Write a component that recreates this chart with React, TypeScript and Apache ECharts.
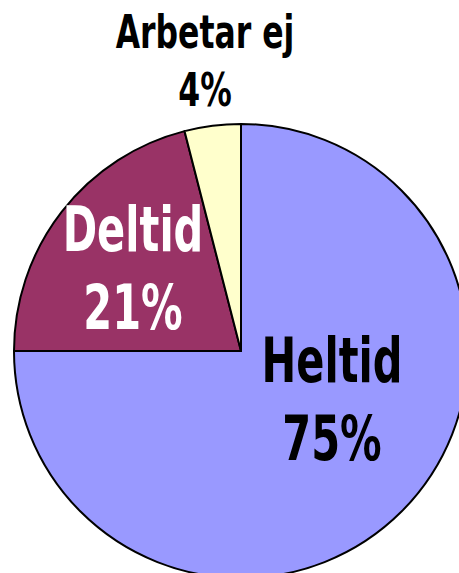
import React, { useEffect, useRef } from "react";
import * as echarts from "echarts";

const categories = ["Heltid", "Deltid", "Arbetar ej"];
const values = [75, 21, 4];
const colors = ["#9999FF", "#993366", "#FFFFCC"];
const labelColors = ["#000000", "#FFFFFF", "#000000"];
const labelSizes = [62, 62, 47];
const labelLineHeights = [78, 78, 58];
const labelCenters = [
  [332, 399],
  [133, 268],
  [205, 61],
];

export default function App() {
  const ref = useRef<HTMLDivElement>(null);
  useEffect(() => {
    if (!ref.current) return;
    const chart = echarts.init(ref.current, null, { renderer: "svg" });
    const total = values.reduce((a, b) => a + b, 0);
    chart.setOption({
      animation: false,
      series: [
        {
          type: "pie",
          center: [241, 351],
          radius: [0, 227],
          startAngle: 90,
          clockwise: true,
          label: { show: false },
          labelLine: { show: false },
          emphasis: { disabled: true },
          itemStyle: { borderColor: "#000", borderWidth: 2 },
          data: categories.map((name, i) => ({
            name,
            value: values[i],
            itemStyle: { color: colors[i] },
          })),
        },
      ],
      graphic: categories.map((name, i) => ({
        type: "text",
        x: labelCenters[i][0],
        y: labelCenters[i][1],
        scaleX: 0.67,
        silent: true,
        z: 100,
        style: {
          text: `${name}\n${Math.round((values[i] / total) * 100)}%`,
          fill: labelColors[i],
          font: `bold ${labelSizes[i]}px 'DejaVu Sans', sans-serif`,
          lineHeight: labelLineHeights[i],
          textAlign: "center",
          textVerticalAlign: "middle",
        },
      })),
    });
    return () => chart.dispose();
  }, []);
  return (
    <div
      ref={ref}
      style={{ position: "absolute", left: 0, top: 0, width: 459, height: 573, background: "#fff" }}
    />
  );
}
